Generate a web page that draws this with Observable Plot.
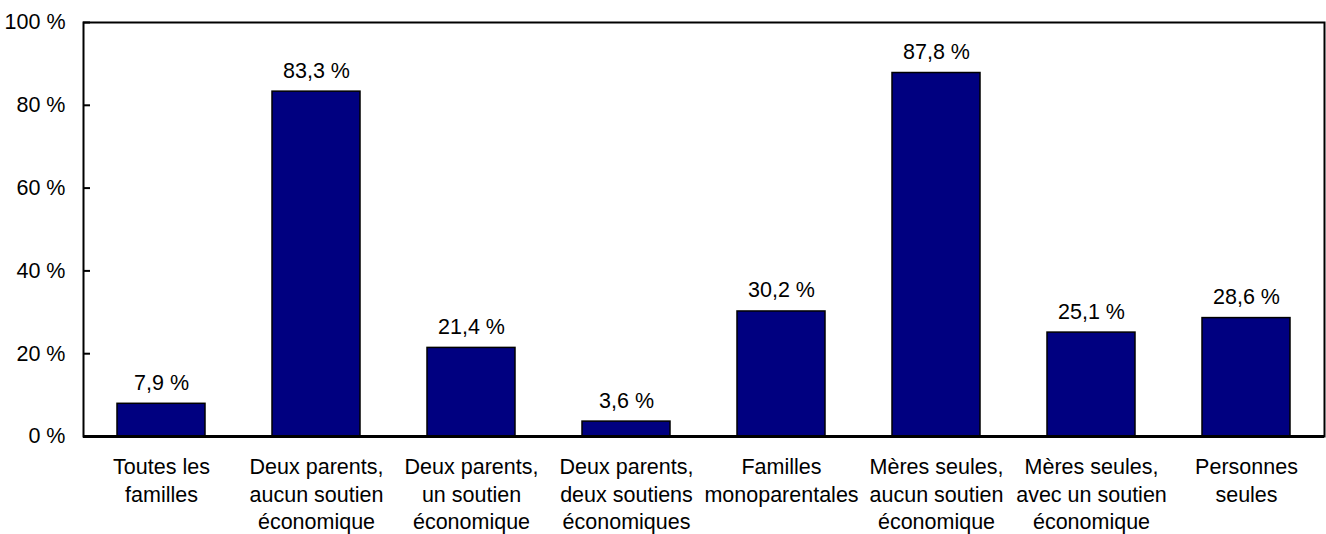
<!DOCTYPE html>
<html>
<head>
<meta charset="utf-8">
<script src="https://cdn.jsdelivr.net/npm/d3@7"></script>
<script src="https://cdn.jsdelivr.net/npm/@observablehq/plot@0.6"></script>
<style>
  html, body { margin: 0; padding: 0; background: #fff; }
  #chart svg { display: block; }
</style>
</head>
<body>
<div id="chart"></div>
<script>
const categories = [
  "Toutes les\nfamilles",
  "Deux parents,\naucun soutien\néconomique",
  "Deux parents,\nun soutien\néconomique",
  "Deux parents,\ndeux soutiens\néconomiques",
  "Familles\nmonoparentales",
  "Mères seules,\naucun soutien\néconomique",
  "Mères seules,\navec un soutien\néconomique",
  "Personnes\nseules"
];
const values = [7.9, 83.3, 21.4, 3.6, 30.2, 87.8, 25.1, 28.6];
const yTicks = [0, 20, 40, 60, 80, 100];

const data = categories.map((c, i) => ({category: c, value: values[i]}));
const fmt = v => String(v).replace(".", ",") + " %";

const W = 1326, H = 534, ML = 83, MR = 2, MT = 22, MB = 98;
const plotW = W - ML - MR;
const FS = 21.5;

const chart = Plot.plot({
  width: W,
  height: H,
  marginLeft: ML,
  marginRight: MR,
  marginTop: MT,
  marginBottom: MB,
  style: {fontFamily: "'Liberation Sans', Arial, sans-serif", fontSize: FS + "px", color: "#000", background: "#fff"},
  x: {domain: categories, paddingInner: 0.43, paddingOuter: 0.215, label: null},
  y: {domain: [0, 100], label: null},
  marks: [
    Plot.barY(data, {x: "category", y: "value", fill: "#000080", stroke: "#000", strokeWidth: 1.5}),
    Plot.text(data, {x: "category", y: "value", text: d => fmt(d.value), lineAnchor: "bottom", dy: -14, fontSize: FS, fill: "#000"}),
    Plot.frame({stroke: "#000", strokeWidth: 2}),
    Plot.tickY(yTicks, {y: d => d, insetRight: plotW - 7, stroke: "#000", strokeWidth: 2}),
    Plot.ruleY([0], {stroke: "#000", strokeWidth: 3}),
    Plot.axisY(yTicks, {tickSize: 0, tickPadding: 18, tickFormat: d => d + " %", fontSize: FS, label: null}),
    Plot.axisX({tickSize: 0, tickPadding: 18, fontSize: FS, lineHeight: 1.28, label: null})
  ]
});
document.getElementById("chart").appendChild(chart);
</script>
</body>
</html>
